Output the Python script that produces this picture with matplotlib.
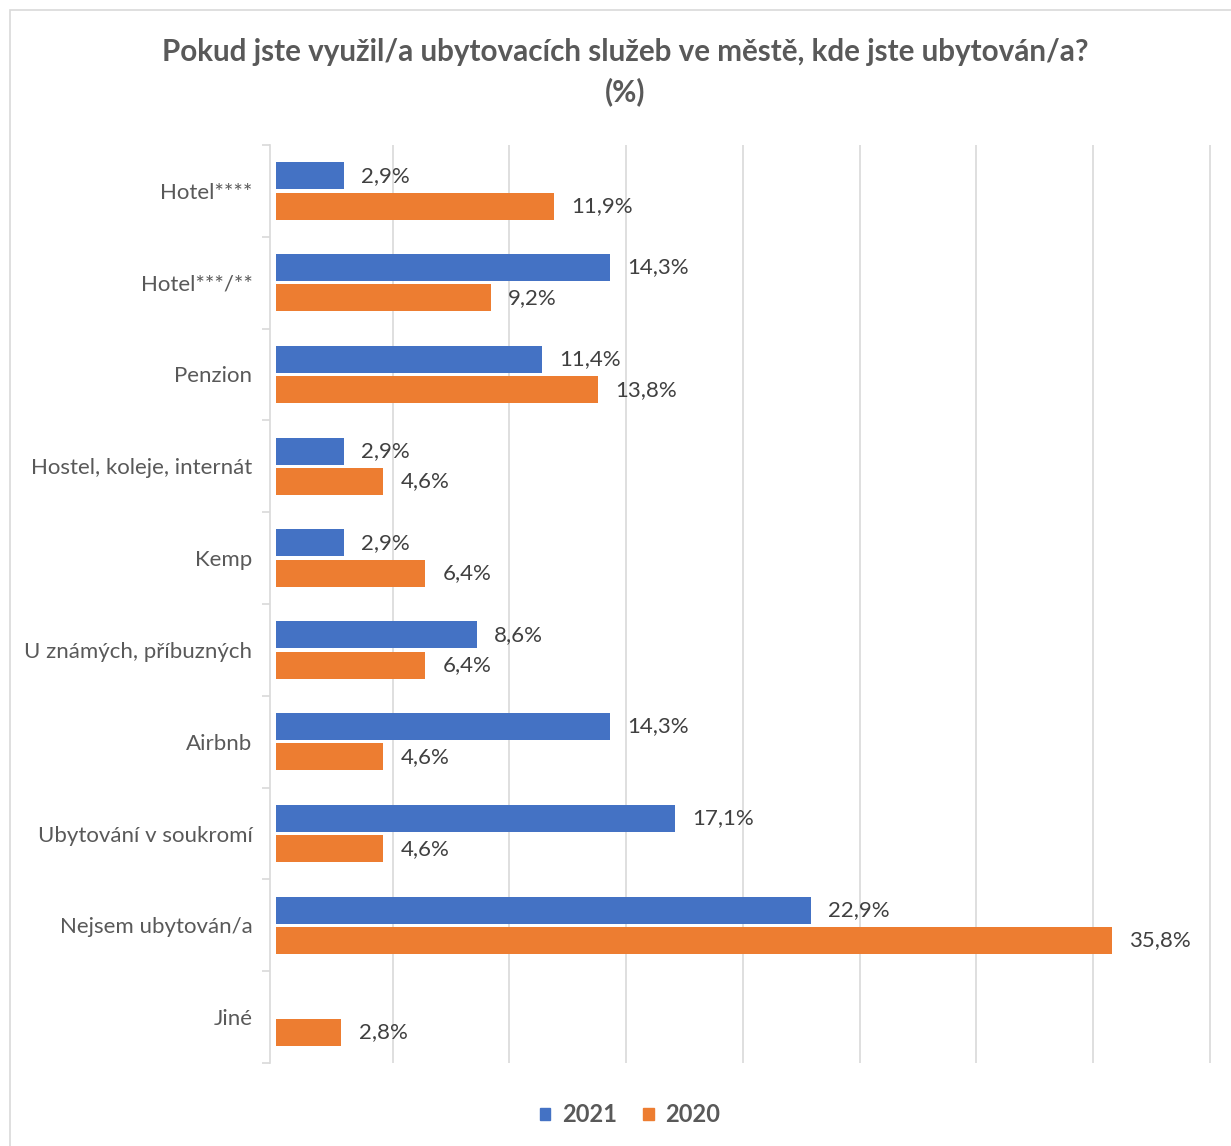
import matplotlib.pyplot as plt
from matplotlib.patches import Rectangle
import numpy as np

categories = ["Hotel****", "Hotel***/**", "Penzion", "Hostel, koleje, internát", "Kemp",
              "U známých, příbuzných", "Airbnb", "Ubytování v soukromí",
              "Nejsem ubytován/a", "Jiné"]
vals_2021 = [2.9, 14.3, 11.4, 2.9, 2.9, 8.6, 14.3, 17.1, 22.9, None]
vals_2020 = [11.9, 9.2, 13.8, 4.6, 6.4, 6.4, 4.6, 4.6, 35.8, 2.8]
series = ["2021", "2020"]
colors = ["#4472C4", "#ED7D31"]

plt.rcParams['font.family'] = ['Lato', 'DejaVu Sans']
text_col = "#595959"
grid_col = "#D9D9D9"

fig = plt.figure(figsize=(12.31, 11.46), dpi=100)
fig.patches.append(Rectangle((10 / 1231, -0.01), 1.02, 1 - 10 / 1146 + 0.01,
                             transform=fig.transFigure, fill=False,
                             edgecolor=grid_col, linewidth=1.2))
ax = fig.add_axes([276 / 1231, 1 - 1063 / 1146, (1212 - 276) / 1231, (1063 - 145) / 1146])

y = np.arange(len(categories))
h = 0.295
off = 0.165
for vals, sign, col in [(vals_2021, -1, colors[0]), (vals_2020, 1, colors[1])]:
    for i, v in enumerate(vals):
        if v is None:
            continue
        ax.barh(y[i] + sign * off, v, height=h, color=col, zorder=3)
        ax.text(v + 0.75, y[i] + sign * off, f"{v:.1f}%".replace(".", ","),
                va="center", ha="left", fontsize=16, color="#404040")

ax.set_xlim(0, 40.1)
ax.set_ylim(len(categories) - 0.5, -0.5)
ax.set_xticks(np.arange(5, 41, 5))
ax.set_xticklabels([])
ax.tick_params(axis="x", length=0)
ax.grid(axis="x", color=grid_col, linewidth=1.2, zorder=0)
ax.set_yticks(y)
ax.set_yticklabels(categories)
ax.set_yticks(np.arange(-0.5, len(categories), 1), minor=True)
ax.tick_params(axis="y", which="major", length=0, pad=13, labelsize=16, labelcolor=text_col)
ax.tick_params(axis="y", which="minor", length=6, color=grid_col, width=1.2)
for s in ["top", "right", "bottom"]:
    ax.spines[s].set_visible(False)
ax.spines["left"].set_color(grid_col)
ax.spines["left"].set_linewidth(1.2)
ax.spines["left"].set_position(("outward", 4))

fig.text(625 / 1231, 1 - 52 / 1146, "Pokud jste využil/a ubytovacích služeb ve městě, kde jste ubytován/a?",
         ha="center", va="center", fontsize=21.3, fontweight="bold", color=text_col)
fig.text(625 / 1231, 1 - 92 / 1146, "(%)",
         ha="center", va="center", fontsize=21.3, fontweight="bold", color=text_col)

handles = [Rectangle((0, 0), 1, 1, color=c) for c in colors]
leg = fig.legend(handles, series, loc="center", bbox_to_anchor=(630 / 1231, 1 - 1115 / 1146),
                 ncol=2, frameon=False, handlelength=0.45, handleheight=0.45,
                 handletextpad=0.5, columnspacing=1.1,
                 prop={"size": 17, "weight": "bold"})
for t in leg.get_texts():
    t.set_color(text_col)

fig.savefig("out.png", dpi=100)
